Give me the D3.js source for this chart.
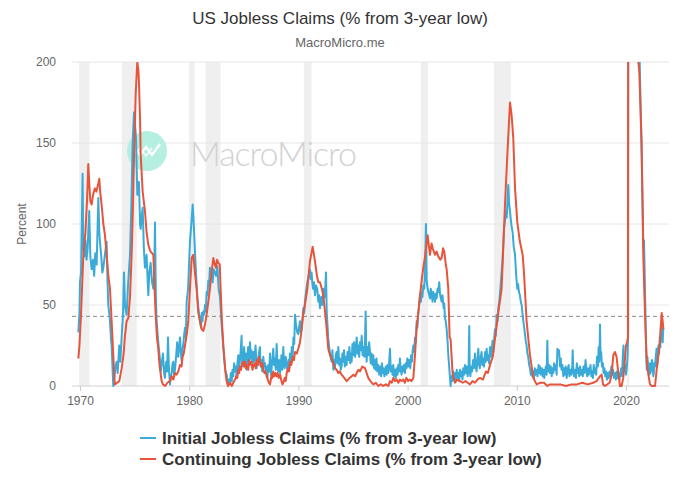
<!DOCTYPE html>
<html>
<head>
<meta charset="utf-8">
<script src="https://cdn.jsdelivr.net/npm/d3@7"></script>
<style>
  html, body { margin: 0; padding: 0; background: #fff; }
  svg { display: block; font-family: "Liberation Sans", Arial, sans-serif; }
</style>
</head>
<body>
<svg id="chart" width="680" height="489"></svg>
<script>
// ---------- DATA ----------
const chartTitle = "US Jobless Claims (% from 3-year low)";
const chartSubtitle = "MacroMicro.me";
const yAxisLabel = "Percent";
const yTicks = [0, 50, 100, 150, 200];
const xTicks = [1970, 1980, 1990, 2000, 2010, 2020];
const referenceLevel = 43;
const seriesNames = ["Initial Jobless Claims (% from 3-year low)", "Continuing Jobless Claims (% from 3-year low)"];

// recession periods [start, end] in decimal years
const recessions = [
  [1969.92, 1970.87], [1973.83, 1975.2], [1980.0, 1980.5], [1981.5, 1982.87],
  [1990.5, 1991.2], [2001.2, 2001.87], [2007.92, 2009.45], [2020.08, 2020.3]
];

// Initial jobless claims, [decimal year, % from 3-year low]
const initialClaims = [
  [1969.85,33],[1969.95,45],[1970.0,64],[1970.1,70],[1970.24,131],[1970.3,85],[1970.4,80],[1970.5,90],[1970.6,78],[1970.7,85],
  [1970.85,108],[1970.95,80],[1971.07,72],[1971.2,78],[1971.3,68],[1971.4,82],[1971.53,75],[1971.68,116],[1971.77,95],[1971.83,89],
  [1971.95,80],[1972.05,70],[1972.14,73],[1972.3,82],[1972.44,89],[1972.52,65],[1972.59,50],[1972.68,45],[1972.75,40],[1972.85,28],
  [1972.9,25],[1973.0,8],[1973.05,0],[1973.15,5],[1973.25,12],[1973.36,15],[1973.45,8],[1973.6,25],[1973.7,15],[1973.82,31],
  [1973.95,45],[1974.03,70],[1974.12,50],[1974.27,44],[1974.4,62],[1974.58,81],[1974.7,110],[1974.82,149],[1974.95,169],[1975.05,160],
  [1975.13,153],[1975.25,118],[1975.4,126],[1975.5,100],[1975.56,97],[1975.65,105],[1975.74,110],[1975.85,85],[1975.95,73],[1976.1,81],
  [1976.26,56],[1976.35,70],[1976.47,76],[1976.6,64],[1976.72,60],[1976.8,70],[1976.87,101],[1976.95,55],[1977.02,40],[1977.17,27],
  [1977.3,18],[1977.4,9],[1977.48,14],[1977.6,20],[1977.7,8],[1977.78,5],[1977.85,12],[1977.9,15],[1977.98,9],[1978.06,30],
  [1978.15,10],[1978.24,1],[1978.32,6],[1978.4,8],[1978.48,14],[1978.55,15],[1978.62,7],[1978.7,10],[1978.8,18],[1978.9,27],
  [1979.0,18],[1979.08,24],[1979.16,30],[1979.25,20],[1979.31,15],[1979.38,22],[1979.45,25],[1979.53,31],[1979.62,36],[1979.7,30],
  [1979.77,52],[1979.9,60],[1980.07,89],[1980.2,100],[1980.32,112],[1980.38,105],[1980.44,97],[1980.55,80],[1980.62,70],[1980.75,55],
  [1980.84,48],[1980.99,40],[1981.08,36],[1981.15,45],[1981.22,40],[1981.29,46],[1981.37,44],[1981.45,50],[1981.52,46],[1981.6,58],
  [1981.68,56],[1981.75,65],[1981.82,62],[1981.9,73],[1982.05,70],[1982.15,64],[1982.25,72],[1982.36,70],[1982.47,68],[1982.58,74],
  [1982.7,60],[1982.82,55],[1982.95,40],[1983.13,23],[1983.3,10],[1983.43,7],[1983.58,0],[1983.66,4],[1983.74,2],[1983.82,8],
  [1983.9,3],[1983.97,10],[1984.04,6],[1984.12,14],[1984.2,9],[1984.28,12],[1984.35,5],[1984.43,15],[1984.5,19],[1984.57,10],
  [1984.65,16],[1984.72,22],[1984.8,31],[1984.85,14],[1984.9,20],[1984.96,12],[1985.03,24],[1985.11,16],[1985.18,20],[1985.26,10],
  [1985.33,18],[1985.4,24],[1985.48,14],[1985.57,27],[1985.63,17],[1985.7,22],[1985.78,12],[1985.87,21],[1985.94,15],[1986.0,19],
  [1986.08,25],[1986.18,11],[1986.24,17],[1986.3,13],[1986.38,20],[1986.48,24],[1986.54,12],[1986.6,16],[1986.7,9],[1986.79,18],
  [1986.86,12],[1986.94,14],[1987.02,8],[1987.09,12],[1987.17,5],[1987.25,13],[1987.33,9],[1987.4,20],[1987.46,11],[1987.5,7],
  [1987.6,15],[1987.7,23],[1987.77,13],[1987.85,17],[1987.93,10],[1988.01,26],[1988.08,14],[1988.15,9],[1988.23,16],[1988.32,8],
  [1988.38,13],[1988.45,19],[1988.53,10],[1988.62,24],[1988.68,14],[1988.75,11],[1988.84,18],[1988.93,13],[1989.02,9],[1989.1,16],
  [1989.17,11],[1989.23,20],[1989.32,15],[1989.4,24],[1989.48,19],[1989.55,30],[1989.62,26],[1989.69,44],[1989.78,38],[1989.9,33],
  [1989.99,32],[1990.08,37],[1990.15,40],[1990.22,33],[1990.3,35],[1990.38,42],[1990.45,48],[1990.53,45],[1990.6,52],[1990.7,58],
  [1990.82,64],[1990.95,68],[1991.06,72],[1991.13,66],[1991.21,70],[1991.28,63],[1991.35,60],[1991.43,64],[1991.52,56],[1991.62,62],
  [1991.73,60],[1991.83,52],[1991.9,56],[1991.98,48],[1992.05,53],[1992.1,55],[1992.2,50],[1992.28,60],[1992.34,54],[1992.4,55],
  [1992.47,62],[1992.53,70],[1992.6,45],[1992.68,36],[1992.74,29],[1992.82,24],[1992.9,20],[1992.97,17],[1993.05,15],[1993.12,22],
  [1993.2,10],[1993.28,16],[1993.35,11],[1993.42,19],[1993.5,21],[1993.58,14],[1993.66,24],[1993.74,13],[1993.81,17],[1993.88,10],
  [1993.96,12],[1994.03,20],[1994.1,15],[1994.18,22],[1994.25,12],[1994.33,18],[1994.42,13],[1994.5,21],[1994.6,16],[1994.67,24],
  [1994.75,14],[1994.82,20],[1994.88,15],[1994.95,26],[1995.03,19],[1995.1,27],[1995.2,18],[1995.27,24],[1995.34,30],[1995.42,20],
  [1995.5,25],[1995.57,18],[1995.64,27],[1995.72,22],[1995.8,31],[1995.88,19],[1995.95,24],[1996.05,18],[1996.1,28],[1996.16,46],
  [1996.22,20],[1996.25,15],[1996.32,24],[1996.4,19],[1996.48,27],[1996.55,22],[1996.62,14],[1996.7,20],[1996.78,13],[1996.86,19],
  [1996.93,11],[1997.0,16],[1997.08,10],[1997.15,17],[1997.23,9],[1997.32,13],[1997.4,7],[1997.5,12],[1997.58,6],[1997.65,14],
  [1997.72,8],[1997.78,11],[1997.88,6],[1998.0,12],[1998.08,7],[1998.16,13],[1998.24,8],[1998.32,15],[1998.39,23],[1998.46,9],
  [1998.55,12],[1998.62,7],[1998.69,13],[1998.77,6],[1998.85,10],[1998.92,5],[1999.0,11],[1999.08,7],[1999.15,13],[1999.22,9],
  [1999.3,17],[1999.37,10],[1999.45,7],[1999.53,12],[1999.61,9],[1999.68,13],[1999.76,8],[1999.83,14],[1999.9,11],[1999.98,17],
  [2000.07,12],[2000.15,16],[2000.25,11],[2000.32,19],[2000.4,15],[2000.47,22],[2000.53,25],[2000.6,21],[2000.68,30],[2000.75,27],
  [2000.83,40],[2000.9,36],[2000.98,45],[2001.06,50],[2001.14,56],[2001.22,52],[2001.29,58],[2001.36,55],[2001.44,62],[2001.52,60],
  [2001.6,70],[2001.68,100],[2001.75,65],[2001.84,60],[2001.95,57],[2002.05,54],[2002.12,60],[2002.2,58],[2002.28,52],[2002.36,58],
  [2002.44,55],[2002.51,52],[2002.58,57],[2002.66,54],[2002.74,60],[2002.81,58],[2002.9,64],[2002.97,57],[2003.05,54],[2003.12,52],
  [2003.2,56],[2003.3,48],[2003.36,51],[2003.42,42],[2003.5,40],[2003.58,35],[2003.66,28],[2003.73,19],[2003.8,13],[2003.85,8],
  [2003.94,0],[2004.02,6],[2004.1,3],[2004.18,9],[2004.26,4],[2004.34,8],[2004.42,3],[2004.5,10],[2004.58,5],[2004.66,8],
  [2004.73,3],[2004.8,10],[2004.88,6],[2004.95,9],[2005.03,4],[2005.1,11],[2005.18,7],[2005.26,13],[2005.34,8],[2005.42,12],
  [2005.5,6],[2005.58,10],[2005.65,37],[2005.69,10],[2005.75,6],[2005.82,12],[2005.9,9],[2006.0,16],[2006.08,11],[2006.17,20],
  [2006.24,12],[2006.32,9],[2006.4,17],[2006.48,23],[2006.55,13],[2006.62,11],[2006.7,18],[2006.78,21],[2006.85,13],[2006.92,17],
  [2007.0,12],[2007.1,21],[2007.17,15],[2007.24,23],[2007.32,16],[2007.4,19],[2007.47,14],[2007.55,24],[2007.62,18],[2007.7,22],
  [2007.78,28],[2007.86,21],[2007.94,30],[2008.0,35],[2008.08,31],[2008.16,44],[2008.24,40],[2008.31,48],[2008.4,52],[2008.5,60],
  [2008.61,70],[2008.7,78],[2008.83,97],[2008.92,102],[2009.01,108],[2009.08,104],[2009.15,115],[2009.22,124],[2009.3,112],[2009.38,108],
  [2009.45,103],[2009.5,100],[2009.56,97],[2009.62,95],[2009.72,86],[2009.84,81],[2009.95,68],[2010.05,60],[2010.12,63],[2010.2,58],
  [2010.29,56],[2010.37,52],[2010.45,50],[2010.52,45],[2010.6,40],[2010.68,36],[2010.75,32],[2010.82,28],[2010.9,25],[2010.97,20],
  [2011.05,18],[2011.13,13],[2011.21,11],[2011.28,7],[2011.35,10],[2011.43,6],[2011.51,9],[2011.58,5],[2011.65,11],[2011.73,7],
  [2011.82,10],[2011.9,6],[2012.0,13],[2012.06,8],[2012.12,12],[2012.2,7],[2012.3,11],[2012.38,6],[2012.46,10],[2012.52,5],
  [2012.58,9],[2012.66,12],[2012.73,7],[2012.8,28],[2012.84,14],[2012.9,9],[2012.97,13],[2013.04,8],[2013.12,12],[2013.2,6],
  [2013.27,11],[2013.35,8],[2013.42,14],[2013.5,10],[2013.58,13],[2013.65,7],[2013.72,23],[2013.8,19],[2013.87,22],[2013.96,12],
  [2014.03,17],[2014.1,10],[2014.18,13],[2014.26,6],[2014.33,11],[2014.4,7],[2014.48,12],[2014.57,5],[2014.65,10],[2014.75,13],
  [2014.82,6],[2014.9,10],[2015.0,7],[2015.08,12],[2015.12,22],[2015.18,9],[2015.25,6],[2015.33,10],[2015.42,5],[2015.5,14],
  [2015.57,8],[2015.64,11],[2015.72,6],[2015.79,12],[2015.88,7],[2016.0,10],[2016.05,6],[2016.1,12],[2016.2,8],[2016.3,16],
  [2016.38,9],[2016.45,6],[2016.52,11],[2016.6,7],[2016.68,10],[2016.75,13],[2016.83,6],[2016.9,9],[2016.97,5],[2017.05,13],
  [2017.12,8],[2017.2,11],[2017.27,7],[2017.35,18],[2017.43,12],[2017.5,24],[2017.57,15],[2017.62,38],[2017.68,17],[2017.73,21],
  [2017.8,12],[2017.88,14],[2017.95,8],[2018.02,11],[2018.1,6],[2018.18,9],[2018.26,4],[2018.34,8],[2018.42,5],[2018.5,9],
  [2018.58,6],[2018.66,12],[2018.74,7],[2018.82,10],[2018.9,5],[2019.0,8],[2019.08,4],[2019.16,9],[2019.24,5],[2019.32,8],
  [2019.4,4],[2019.48,7],[2019.56,11],[2019.64,6],[2019.72,20],[2019.77,25],[2019.84,9],[2019.92,13],[2020.0,7],[2020.06,10],
  [2020.15,19],[2020.2,35],[2020.25,2500],[2020.5,800],[2020.8,400],[2021.0,300],[2021.2,220],[2021.28,192],[2021.4,155],[2021.5,120],
  [2021.59,85],[2021.65,90],[2021.74,60],[2021.82,30],[2021.9,10],[2021.96,18],[2022.0,15],[2022.06,9],[2022.1,12],[2022.15,7],
  [2022.2,14],[2022.25,8],[2022.3,10],[2022.38,16],[2022.45,13],[2022.5,6],[2022.55,8],[2022.6,14],[2022.66,12],[2022.73,18],
  [2022.8,23],[2022.85,12],[2022.9,15],[2022.97,25],[2023.03,20],[2023.1,30],[2023.15,24],[2023.2,38],[2023.27,35],[2023.32,30],
  [2023.36,27],[2023.42,36]
];

// Continuing jobless claims, [decimal year, % from 3-year low]
const continuingClaims = [
  [1969.85,17],[1969.95,25],[1970.1,45],[1970.31,81],[1970.5,95],[1970.65,115],[1970.76,137],[1970.85,125],[1970.95,114],[1971.07,112],
  [1971.2,118],[1971.37,122],[1971.5,120],[1971.65,124],[1971.77,128],[1971.85,120],[1971.98,112],[1972.14,100],[1972.29,93],[1972.45,80],
  [1972.6,68],[1972.75,60],[1972.9,40],[1973.05,19],[1973.15,5],[1973.2,1],[1973.4,2],[1973.6,3],[1973.82,11],[1974.0,20],
  [1974.12,31],[1974.27,40],[1974.43,42],[1974.58,55],[1974.73,81],[1974.85,110],[1974.95,143],[1975.1,180],[1975.25,200],[1975.35,195],
  [1975.4,188],[1975.5,165],[1975.56,143],[1975.74,120],[1975.95,108],[1976.1,95],[1976.26,87],[1976.4,84],[1976.47,83],[1976.6,82],
  [1976.72,81],[1976.8,65],[1976.93,44],[1977.05,30],[1977.17,23],[1977.3,12],[1977.48,3],[1977.6,1],[1977.8,0],[1978.0,2],
  [1978.24,3],[1978.4,6],[1978.55,4],[1978.7,8],[1978.85,7],[1979.0,9],[1979.16,13],[1979.3,12],[1979.4,18],[1979.5,20],
  [1979.62,25],[1979.8,33],[1979.92,40],[1980.07,60],[1980.23,79],[1980.38,81],[1980.5,72],[1980.68,60],[1980.84,45],[1980.99,40],
  [1981.15,35],[1981.29,34],[1981.45,38],[1981.6,44],[1981.75,52],[1981.9,60],[1982.05,70],[1982.21,79],[1982.3,76],[1982.45,73],
  [1982.55,78],[1982.67,76],[1982.8,75],[1982.88,60],[1983.0,40],[1983.13,25],[1983.3,10],[1983.43,3],[1983.55,0],[1983.74,2],
  [1983.9,0],[1984.04,2],[1984.2,4],[1984.3,6],[1984.4,5],[1984.5,10],[1984.58,8],[1984.65,12],[1984.75,10],[1984.85,14],
  [1984.96,15],[1985.05,12],[1985.1,15],[1985.18,11],[1985.26,13],[1985.4,10],[1985.5,16],[1985.57,13],[1985.7,15],[1985.8,10],
  [1985.87,12],[1986.0,14],[1986.1,11],[1986.18,16],[1986.3,13],[1986.4,18],[1986.48,15],[1986.6,12],[1986.7,14],[1986.79,10],
  [1986.9,8],[1987.0,9],[1987.09,6],[1987.2,4],[1987.3,2],[1987.4,1],[1987.48,4],[1987.55,7],[1987.62,5],[1987.7,9],
  [1987.8,6],[1987.9,8],[1988.01,6],[1988.1,8],[1988.2,5],[1988.32,7],[1988.45,3],[1988.55,1],[1988.62,2],[1988.75,5],
  [1988.84,3],[1988.93,8],[1989.05,11],[1989.15,9],[1989.23,15],[1989.35,13],[1989.5,18],[1989.6,16],[1989.69,21],[1989.85,20],
  [1989.99,23],[1990.15,27],[1990.3,35],[1990.45,45],[1990.6,50],[1990.82,60],[1991.06,77],[1991.31,86],[1991.52,77],[1991.7,68],
  [1991.83,64],[1991.98,64],[1992.15,60],[1992.28,56],[1992.53,40],[1992.74,23],[1992.9,19],[1993.05,17],[1993.2,14],[1993.35,11],
  [1993.5,10],[1993.66,8],[1993.8,9],[1993.96,7],[1994.2,5],[1994.42,3],[1994.7,5],[1995.03,7],[1995.2,6],[1995.34,8],
  [1995.5,10],[1995.64,9],[1995.85,12],[1996.1,11],[1996.25,8],[1996.4,5],[1996.6,3],[1996.86,1],[1997.1,2],[1997.32,0],
  [1997.55,1],[1997.78,0],[1998.0,1],[1998.24,0],[1998.39,3],[1998.55,2],[1998.7,5],[1998.85,3],[1999.0,4],[1999.15,2],
  [1999.3,4],[1999.45,3],[1999.61,4],[1999.75,2],[1999.9,5],[2000.05,3],[2000.2,4],[2000.35,3],[2000.53,5],[2000.68,19],
  [2000.83,36],[2000.98,45],[2001.14,56],[2001.29,65],[2001.44,73],[2001.6,80],[2001.84,93],[2002.05,81],[2002.2,88],[2002.3,85],
  [2002.51,81],[2002.66,83],[2002.81,80],[2003.0,78],[2003.12,79],[2003.25,85],[2003.36,83],[2003.5,75],[2003.58,72],[2003.73,60],
  [2003.85,30],[2003.94,29],[2004.13,7],[2004.34,2],[2004.55,4],[2004.8,3],[2005.05,2],[2005.3,3],[2005.5,2],[2005.71,1],
  [2005.95,3],[2006.17,2],[2006.4,4],[2006.63,5],[2006.9,4],[2007.18,9],[2007.35,8],[2007.55,13],[2007.8,18],[2008.0,29],
  [2008.3,45],[2008.61,60],[2008.92,112],[2009.13,142],[2009.38,175],[2009.53,167],[2009.68,153],[2009.84,122],[2010.05,101],[2010.29,89],
  [2010.54,81],[2010.66,70],[2010.9,40],[2011.21,19],[2011.51,5],[2011.82,1],[2012.1,2],[2012.5,2],[2012.8,0],[2013.04,1],
  [2013.5,1],[2014.0,1],[2014.5,0],[2015.0,1],[2015.5,1],[2016.0,2],[2016.5,1],[2017.0,2],[2017.31,3],[2017.62,6],
  [2017.77,7],[2017.9,1],[2018.08,0],[2018.5,2],[2018.69,7],[2018.84,19],[2018.99,21],[2019.14,18],[2019.3,8],[2019.45,0],
  [2019.6,0],[2019.75,5],[2019.85,12],[2020.0,25],[2020.1,27],[2020.18,30],[2020.22,400],[2020.4,1500],[2020.6,900],[2020.9,400],
  [2021.13,200],[2021.22,194],[2021.43,150],[2021.59,80],[2021.74,45],[2021.9,15],[2022.05,7],[2022.2,1],[2022.36,0],[2022.66,0],
  [2022.81,10],[2022.97,19],[2023.1,27],[2023.27,45],[2023.36,40],[2023.42,35]
];

const colors = ["#3aabd8", "#e8543b"];

// ---------- CHART ----------
const svg = d3.select("#chart");
const margin = { left: 72, right: 11, top: 62, bottom: 103 };
const W = 680, H = 489;
const x = d3.scaleLinear().domain([1969.27, 2023.94]).range([margin.left, W - margin.right]);
const y = d3.scaleLinear().domain([0, 200]).range([H - margin.bottom, margin.top]);

// title
svg.append("text").attr("x", 340).attr("y", 24).attr("text-anchor", "middle")
  .attr("font-size", 17).attr("fill", "#333").text(chartTitle);
svg.append("text").attr("x", 340).attr("y", 47).attr("text-anchor", "middle")
  .attr("font-size", 13).attr("fill", "#666").text(chartSubtitle);

// recession bands
svg.append("g").selectAll("rect").data(recessions).join("rect")
  .attr("x", d => x(d[0])).attr("width", d => Math.max(1, x(d[1]) - x(d[0])))
  .attr("y", margin.top).attr("height", y(0) - margin.top)
  .attr("fill", "#efefef");

// gridlines
svg.append("g").selectAll("line").data(yTicks).join("line")
  .attr("x1", margin.left).attr("x2", W - margin.right)
  .attr("y1", d => y(d)).attr("y2", d => y(d))
  .attr("stroke", d => d === 0 ? "#d0d0d0" : "#e6e6e6").attr("stroke-width", 1);

// watermark
const wm = svg.append("g");
wm.append("circle").attr("cx", 147).attr("cy", 151).attr("r", 20).attr("fill", "#b4efe2");
wm.append("path").attr("d", "M134,147 L140,155 L146,147 L152,155 L160,144")
  .attr("fill", "none").attr("stroke", "#fff").attr("stroke-width", 2.2);
wm.append("path").attr("d", "M134,155 L140,148 L146,156 L152,148")
  .attr("fill", "none").attr("stroke", "#fff").attr("stroke-width", 1.6).attr("opacity", 0.8);
wm.append("text").attr("x", 190).attr("y", 166).attr("font-family", "Lato, 'Open Sans', sans-serif")
  .attr("font-weight", 300).attr("font-size", 34).attr("fill", "#d2d2d2")
  .attr("textLength", 167).text("MacroMicro");

// y axis labels
svg.append("g").selectAll("text").data(yTicks).join("text")
  .attr("x", 56).attr("y", d => y(d)).attr("dy", "0.35em").attr("text-anchor", "end")
  .attr("font-size", 12).attr("fill", "#666").text(d => d);
svg.append("text").attr("transform", "translate(26,224) rotate(-90)").attr("text-anchor", "middle")
  .attr("font-size", 12).attr("fill", "#666").text(yAxisLabel);

// x axis
const xAxis = d3.axisBottom(x).tickValues(xTicks).tickFormat(d3.format("d")).tickSize(5).tickSizeOuter(0);
const gx = svg.append("g").attr("transform", `translate(0,${y(0)})`).call(xAxis);
gx.select(".domain").remove();
gx.selectAll("line").attr("stroke", "#ccc");
gx.selectAll("text").attr("font-size", 12).attr("fill", "#666").attr("dy", "0.9em")
  .attr("font-family", "'Liberation Sans', Arial, sans-serif");

// reference dashed line
svg.append("line").attr("x1", margin.left).attr("x2", W - margin.right)
  .attr("y1", y(referenceLevel)).attr("y2", y(referenceLevel))
  .attr("stroke", "#888").attr("stroke-width", 1).attr("stroke-dasharray", "4,3");

// clip
svg.append("clipPath").attr("id", "plotclip").append("rect")
  .attr("x", margin.left).attr("y", margin.top)
  .attr("width", W - margin.right - margin.left).attr("height", y(0) - margin.top + 1);

const line = d3.line().x(d => x(d[0])).y(d => y(d[1]));
const plot = svg.append("g").attr("clip-path", "url(#plotclip)");
[initialClaims, continuingClaims].forEach((series, i) => {
  plot.append("path").datum(series).attr("d", line)
    .attr("fill", "none").attr("stroke", colors[i]).attr("stroke-width", 2)
    .attr("stroke-linejoin", "round");
});

// legend
const lg = svg.append("g");
seriesNames.forEach((name, i) => {
  const yy = 438 + i * 21;
  lg.append("line").attr("x1", 140).attr("x2", 156).attr("y1", yy).attr("y2", yy)
    .attr("stroke", colors[i]).attr("stroke-width", 2);
  lg.append("text").attr("x", 162).attr("y", yy).attr("dy", "0.36em")
    .attr("font-size", 17).attr("font-weight", "bold").attr("fill", "#333").text(name);
});
</script>
</body>
</html>
